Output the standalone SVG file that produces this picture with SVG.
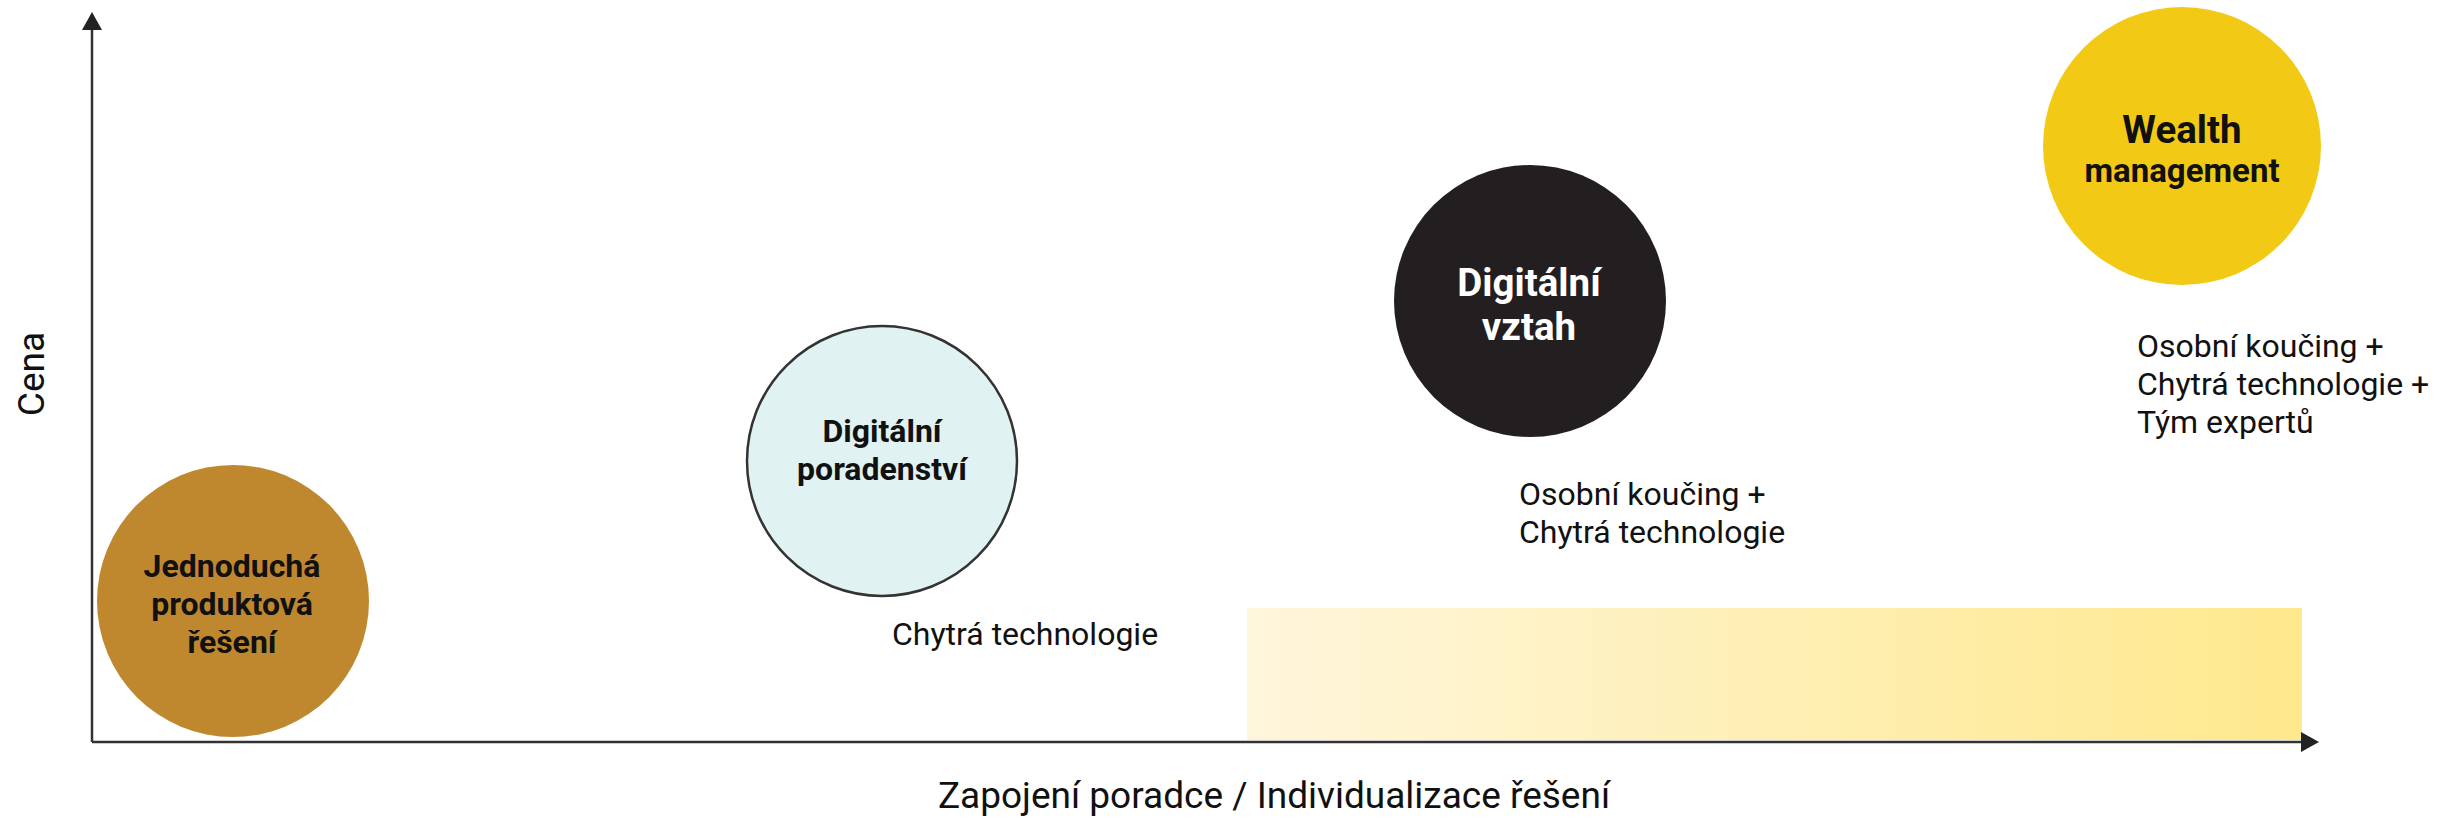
<svg xmlns="http://www.w3.org/2000/svg" width="2438" height="822" viewBox="0 0 2438 822">
<defs>
<style>
.t{font-family:Roboto,"Liberation Sans",sans-serif;fill:#111;}
.r{font-size:32px;}
.b{font-weight:bold;}
.axis{stroke:#333;stroke-width:2.5;fill:none;}
</style>
<marker id="ah" viewBox="0 0 18 20" refX="0" refY="10" markerWidth="18" markerHeight="20" markerUnits="userSpaceOnUse" orient="auto">
<path d="M0,0 L18,10 L0,20 z" fill="#222"/>
</marker>
<linearGradient id="g" x1="0" y1="0" x2="1" y2="0">
<stop offset="0" stop-color="#FEF6DC"/>
<stop offset="1" stop-color="#FFE88C"/>
</linearGradient>
</defs>
<rect width="2438" height="822" fill="#fff"/>
<rect id="band" x="1247" y="608" width="1055" height="132" fill="url(#g)"/>
<g id="connectors">
<line class="axis" x1="92" y1="742" x2="92" y2="30" marker-end="url(#ah)"/>
<line class="axis" x1="92" y1="742" x2="2301" y2="742" marker-end="url(#ah)"/>
</g>
<text class="t" font-size="37" transform="translate(44,374) rotate(-90)" text-anchor="middle">Cena</text>
<text class="t" font-size="37" x="1274" y="808" text-anchor="middle">Zapojení poradce / Individualizace řešení</text>
<g id="node-jednoducha">
<circle cx="233" cy="601" r="136" fill="#C0882E"/>
<text class="t b" font-size="32" text-anchor="middle"><tspan x="232" y="577">Jednoduchá</tspan><tspan x="232" y="615">produktová</tspan><tspan x="232" y="653">řešení</tspan></text>
</g>
<g id="node-poradenstvi">
<circle cx="882" cy="461" r="135" fill="#E0F2F1" stroke="#333" stroke-width="2.5"/>
<text class="t b" font-size="32" text-anchor="middle"><tspan x="882" y="442">Digitální</tspan><tspan x="882" y="480">poradenství</tspan></text>
<text class="t r" x="892" y="645">Chytrá technologie</text>
</g>
<g id="node-vztah">
<circle cx="1530" cy="301" r="136" fill="#231F20"/>
<text class="t b" font-size="38.5" text-anchor="middle" style="fill:#fff"><tspan x="1529" y="296">Digitální</tspan><tspan x="1529" y="340">vztah</tspan></text>
<text class="t r"><tspan x="1519" y="505">Osobní koučing +</tspan><tspan x="1519" y="543">Chytrá technologie</tspan></text>
</g>
<g id="node-wealth">
<circle cx="2182" cy="146" r="139" fill="#F2CA16"/>
<text class="t b" text-anchor="middle"><tspan x="2182" y="143" font-size="38.5">Wealth</tspan><tspan x="2182" y="182" font-size="33">management</tspan></text>
<text class="t r"><tspan x="2137" y="357">Osobní koučing +</tspan><tspan x="2137" y="395">Chytrá technologie +</tspan><tspan x="2137" y="433">Tým expertů</tspan></text>
</g>
</svg>
